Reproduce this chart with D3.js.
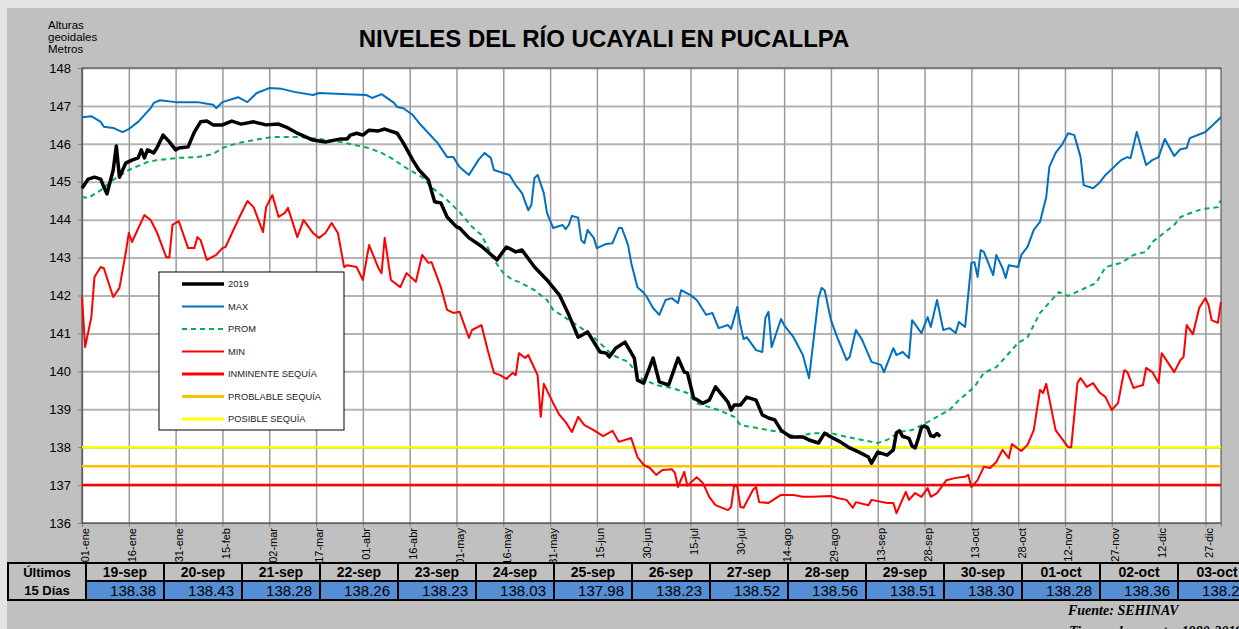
<!DOCTYPE html>
<html>
<head>
<meta charset="utf-8">
<script src="https://cdn.jsdelivr.net/npm/d3@7"></script>
<style>
body { margin: 0; background: #e4e4e4; }
text { font-family: Arial, "Liberation Sans", sans-serif; }
</style>
</head>
<body>
<svg id="chart" width="1239" height="629"></svg>
<script>
// day of year (0 = 01-ene), level in metres
let maxData = [[0,146.70],[3,146.73],[6,146.58],[7,146.45],[10,146.42],[13,146.31],[15,146.39],[18,146.58],[22,146.94],[23,147.08],[25,147.15],[30,147.10],[37,147.10],[42,147.03],[43,146.94],[45,147.10],[50,147.23],[53,147.10],[56,147.34],[60,147.47],[64,147.45],[68,147.37],[74,147.29],[76,147.34],[85,147.31],[91,147.29],[93,147.21],[96,147.31],[100,147.08],[101,146.97],[103,146.94],[106,146.76],[108,146.55],[114,146.02],[117,145.65],[119,145.65],[121,145.39],[124,145.18],[127,145.57],[129,145.76],[131,145.63],[132,145.31],[137,145.18],[139,144.91],[141,144.70],[143,144.25],[144,144.39],[145,145.10],[146,145.18],[148,144.70],[149,144.18],[151,143.78],[154,143.86],[155,143.75],[156,143.86],[157,144.10],[159,144.05],[160,143.46],[161,143.38],[162,143.73],[164,143.52],[165,143.25],[168,143.36],[170,143.38],[172,143.78],[173,143.78],[175,143.33],[176,142.86],[178,142.22],[180,142.07],[181,141.96],[183,141.67],[185,141.49],[187,141.88],[189,141.93],[191,141.80],[192,142.14],[195,142.01],[197,141.88],[200,141.49],[202,141.54],[204,141.14],[207,141.22],[208,141.12],[210,141.70],[211,141.22],[212,140.85],[213,140.90],[216,140.56],[218,140.51],[219,141.41],[220,141.57],[221,140.64],[224,141.38],[225,141.22],[228,140.90],[231,140.43],[233,139.82],[236,141.93],[237,142.20],[238,142.14],[240,141.35],[242,140.90],[245,140.30],[246,140.38],[248,141.09],[250,140.83],[253,140.25],[256,140.17],[257,139.98],[260,140.61],[261,140.43],[263,140.51],[265,140.35],[266,141.35],[269,141.01],[271,141.43],[272,141.17],[274,141.88],[276,141.09],[278,141.14],[280,141.01],[281,141.30],[283,141.17],[285,142.86],[286,142.88],[287,142.49],[288,143.20],[289,143.15],[292,142.54],[293,143.07],[295,142.72],[296,142.46],[297,142.80],[300,142.75],[301,143.07],[303,143.28],[305,143.73],[307,143.94],[309,144.60],[310,145.39],[312,145.76],[314,145.97],[316,146.28],[318,146.23],[320,145.65],[321,144.91],[324,144.83],[326,144.97],[328,145.18],[333,145.57],[335,145.65],[336,145.62],[338,146.31],[341,145.44],[343,145.57],[345,145.65],[347,146.13],[350,145.68],[352,145.86],[354,145.89],[355,146.15],[359,146.28],[360,146.31],[365,146.70]];

let promData = [[0,144.60],[2,144.57],[6,144.78],[10,145.05],[15,145.31],[21,145.52],[24,145.57],[31,145.63],[37,145.65],[42,145.73],[45,145.89],[50,146.02],[55,146.10],[61,146.18],[69,146.18],[74,146.15],[83,146.05],[89,145.94],[92,145.89],[96,145.76],[99,145.63],[104,145.36],[109,145.12],[112,144.86],[117,144.52],[121,144.20],[125,143.81],[128,143.60],[132,142.94],[135,142.59],[138,142.41],[140,142.36],[145,142.14],[149,141.88],[151,141.62],[155,141.41],[160,141.14],[164,140.90],[170,140.43],[175,140.25],[179,139.82],[184,139.64],[189,139.56],[194,139.43],[197,139.16],[204,138.98],[209,138.80],[211,138.58],[216,138.51],[220,138.45],[224,138.40],[229,138.27],[234,138.37],[240,138.37],[245,138.27],[250,138.19],[255,138.11],[258,138.19],[262,138.40],[266,138.45],[271,138.66],[275,138.85],[278,138.98],[281,139.24],[286,139.59],[289,139.96],[293,140.11],[296,140.38],[300,140.75],[303,140.90],[307,141.54],[313,142.09],[316,141.99],[320,142.14],[325,142.33],[328,142.75],[333,142.86],[337,143.07],[341,143.15],[343,143.41],[350,143.86],[352,144.07],[356,144.20],[359,144.28],[364,144.33],[365,144.52]];

let minData = [[0,141.96],[1,140.64],[3,141.43],[4,142.49],[6,142.75],[7,142.72],[10,141.96],[12,142.20],[14,143.12],[15,143.65],[16,143.41],[20,144.12],[22,143.99],[24,143.67],[27,143.01],[28,143.01],[29,143.86],[31,143.96],[34,143.25],[36,143.25],[37,143.54],[38,143.46],[40,142.94],[43,143.07],[45,143.25],[46,143.28],[50,143.99],[53,144.49],[55,144.33],[58,143.67],[59,144.33],[61,144.65],[63,144.07],[65,144.18],[66,144.31],[69,143.54],[71,143.99],[74,143.65],[76,143.52],[78,143.65],[80,143.91],[82,143.65],[84,142.75],[85,142.80],[88,142.75],[90,142.41],[92,143.33],[95,142.72],[96,142.59],[97,143.52],[99,142.41],[102,142.22],[104,142.59],[107,142.36],[109,143.07],[111,142.86],[112,142.88],[115,142.22],[117,141.62],[119,141.54],[121,141.57],[124,140.88],[125,141.09],[128,141.22],[130,140.56],[132,139.96],[134,139.90],[136,139.80],[138,139.96],[139,139.90],[140,140.48],[142,140.35],[143,140.43],[146,139.90],[147,138.80],[148,139.67],[151,139.16],[153,138.85],[155,138.66],[157,138.40],[159,138.80],[161,138.58],[164,138.45],[167,138.29],[170,138.43],[172,138.14],[176,138.24],[178,137.74],[180,137.53],[182,137.45],[184,137.27],[186,137.40],[189,137.42],[190,137.32],[191,136.95],[193,137.35],[194,136.98],[197,137.21],[199,137.05],[201,136.69],[203,136.47],[207,136.34],[208,136.42],[209,137.00],[210,136.95],[211,136.42],[212,136.40],[215,136.87],[216,136.95],[217,136.55],[220,136.53],[224,136.74],[228,136.74],[231,136.69],[234,136.69],[240,136.71],[242,136.66],[245,136.61],[247,136.40],[248,136.55],[252,136.47],[253,136.61],[258,136.53],[260,136.53],[261,136.26],[264,136.82],[265,136.61],[267,136.79],[269,136.69],[271,136.92],[272,136.69],[274,136.79],[277,137.13],[280,137.19],[283,137.22],[284,137.27],[285,136.95],[287,137.13],[289,137.48],[291,137.45],[293,137.61],[295,137.93],[297,137.71],[298,138.08],[301,137.90],[303,138.06],[305,138.45],[307,139.51],[308,139.43],[309,139.67],[312,138.45],[316,138.00],[317,138.00],[319,139.69],[320,139.82],[322,139.59],[324,139.69],[326,139.45],[328,139.32],[330,138.98],[332,139.16],[334,140.03],[335,139.98],[337,139.56],[338,139.59],[340,139.64],[341,140.09],[343,139.98],[345,139.69],[346,140.48],[350,139.98],[352,140.30],[353,140.38],[354,141.22],[356,140.98],[358,141.67],[360,141.93],[361,141.75],[362,141.35],[364,141.28],[365,141.83]];

let data2019 = [[0,144.83],[2,145.07],[4,145.12],[6,145.07],[7,144.86],[8,144.68],[10,145.31],[11,145.94],[12,145.12],[14,145.49],[16,145.57],[18,145.63],[19,145.84],[20,145.63],[21,145.84],[23,145.76],[24,145.89],[26,146.23],[28,146.05],[30,145.84],[31,145.89],[34,145.92],[36,146.31],[38,146.58],[40,146.60],[42,146.50],[45,146.50],[48,146.60],[51,146.52],[55,146.58],[59,146.50],[63,146.52],[66,146.42],[69,146.28],[74,146.10],[78,146.05],[83,146.13],[85,146.13],[86,146.23],[88,146.28],[90,146.23],[92,146.36],[95,146.34],[97,146.39],[101,146.28],[103,146.02],[106,145.57],[108,145.31],[111,145.05],[113,144.47],[115,144.44],[117,144.07],[120,143.81],[121,143.78],[124,143.52],[128,143.30],[133,142.94],[136,143.28],[139,143.15],[141,143.20],[145,142.75],[149,142.41],[153,142.01],[156,141.49],[159,140.90],[162,141.04],[166,140.51],[168,140.48],[169,140.38],[171,140.61],[174,140.77],[177,140.35],[178,139.77],[180,139.69],[183,140.35],[185,139.72],[188,139.64],[191,140.35],[193,139.98],[194,139.96],[196,139.30],[199,139.16],[201,139.24],[203,139.59],[207,139.19],[208,138.98],[209,139.11],[211,139.11],[213,139.32],[216,139.24],[218,138.85],[220,138.77],[222,138.72],[224,138.45],[227,138.27],[231,138.27],[233,138.19],[236,138.11],[238,138.37],[240,138.27],[243,138.14],[246,137.98],[249,137.87],[252,137.74],[253,137.58],[255,137.87],[258,137.79],[260,137.93]];

// last 15 days table
let lastDays = ["19-sep","20-sep","21-sep","22-sep","23-sep","24-sep","25-sep","26-sep","27-sep","28-sep","29-sep","30-sep","01-oct","02-oct","03-oct"];
let lastVals = [138.38,138.43,138.28,138.26,138.23,138.03,137.98,138.23,138.52,138.56,138.51,138.30,138.28,138.36,138.28];
let lastStart = 261;

let tickLabels = ["01-ene","16-ene","31-ene","15-feb","02-mar","17-mar","01-abr","16-abr","01-may","16-may","31-may","15-jun","30-jun","15-jul","30-jul","14-ago","29-ago","13-sep","28-sep","13-oct","28-oct","12-nov","27-nov","12-dic","27-dic"];
let tickDays = d3.range(0, 361, 15);

let levelNames = ["INMINENTE SEQUÍA","PROBLABLE SEQUÍA","POSIBLE SEQUÍA"];
let levelVals = [137, 137.5, 138];
let levelColors = ["#ff0000","#ffc000","#ffff00"];

// 2019 line keeps going with the table values
lastVals.forEach((v,i) => data2019.push([lastStart + i, v]));

let svg = d3.select("#chart");
let W = 1239, H = 629;

svg.append("rect").attr("x",7).attr("y",8).attr("width",W-7).attr("height",H-8).attr("fill","#c0c0c0");

let x = d3.scaleLinear().domain([0,365]).range([82,1221]);
let y = d3.scaleLinear().domain([136,148]).range([523,68]);

svg.append("rect").attr("x",82).attr("y",68).attr("width",1221-82).attr("height",523-68).attr("fill","#fff");

// horizontal grid
svg.append("g")
  .attr("transform","translate(82,0)")
  .call(d3.axisLeft(y).ticks(12).tickSize(-(1221-82)).tickFormat(""))
  .call(g => g.select(".domain").remove())
  .call(g => g.selectAll("line").attr("stroke","#b4b4b4").attr("stroke-width",2));

// vertical grid
svg.append("g")
  .attr("transform","translate(0,523)")
  .call(d3.axisBottom(x).tickValues(tickDays).tickSize(-(523-68)).tickFormat(""))
  .call(g => g.select(".domain").remove())
  .call(g => g.selectAll("line").attr("stroke","#9a9a9a").attr("stroke-width",1.5));

// y axis
let yAxis = svg.append("g")
  .attr("transform","translate(82,0)")
  .call(d3.axisLeft(y).ticks(12).tickSize(4).tickPadding(7).tickFormat(d3.format("d")));
yAxis.select(".domain").attr("stroke","#808080");
yAxis.selectAll("line").attr("stroke","#808080");
yAxis.selectAll("text").attr("font-size","13px").attr("fill","#000");

// x axis
let xAxis = svg.append("g")
  .attr("transform","translate(0,523)")
  .call(d3.axisBottom(x).tickValues(tickDays).tickSize(4).tickFormat((d,i) => tickLabels[i]));
xAxis.select(".domain").attr("stroke","#808080");
xAxis.selectAll("line").attr("stroke","#808080");
xAxis.selectAll("text")
  .attr("font-size","11px").attr("fill","#000")
  .attr("text-anchor","end")
  .attr("transform","translate(3,5) rotate(-90)")
  .attr("x",0).attr("y",0).attr("dy","0.35em");

// plot border
svg.append("rect").attr("x",82).attr("y",68).attr("width",1221-82).attr("height",523-68)
  .attr("fill","none").attr("stroke","#404040").attr("stroke-width",1);

// threshold levels
svg.selectAll(".level").data(levelVals).enter().append("line")
  .attr("class","level")
  .attr("x1",x(0)).attr("x2",x(365))
  .attr("y1",d => y(d)).attr("y2",d => y(d))
  .attr("stroke",(d,i) => levelColors[i]).attr("stroke-width",2.5);

let line = d3.line().x(d => x(d[0])).y(d => y(d[1]));

svg.append("path").datum(minData).attr("d",line)
  .attr("fill","none").attr("stroke","#ff0000").attr("stroke-width",2).attr("stroke-linejoin","round");
svg.append("path").datum(maxData).attr("d",line)
  .attr("fill","none").attr("stroke","#0070c0").attr("stroke-width",2).attr("stroke-linejoin","round");
svg.append("path").datum(promData).attr("d",line)
  .attr("fill","none").attr("stroke","#00b050").attr("stroke-width",2).attr("stroke-dasharray","5,4");
svg.append("path").datum(data2019).attr("d",line)
  .attr("fill","none").attr("stroke","#000").attr("stroke-width",3.5).attr("stroke-linejoin","round");

// legend
let legendItems = [
  {name:"2019", color:"#000", w:3.5, dash:null},
  {name:"MAX", color:"#0070c0", w:2, dash:null},
  {name:"PROM", color:"#00b050", w:2, dash:"5,4"},
  {name:"MIN", color:"#ff0000", w:2, dash:null},
  {name:levelNames[0], color:levelColors[0], w:3, dash:null},
  {name:levelNames[1], color:levelColors[1], w:3, dash:null},
  {name:levelNames[2], color:levelColors[2], w:3, dash:null}
];
let legend = svg.append("g");
legend.append("rect").attr("x",159).attr("y",272).attr("width",185).attr("height",158)
  .attr("fill","#fff").attr("stroke","#000").attr("stroke-width",1);
let li = legend.selectAll("g").data(legendItems).enter().append("g")
  .attr("transform",(d,i) => "translate(0," + (284 + i*22.5) + ")");
li.append("line").attr("x1",182).attr("x2",224)
  .attr("stroke",d => d.color).attr("stroke-width",d => d.w).attr("stroke-dasharray",d => d.dash);
li.append("text").attr("x",228).attr("dy","0.35em").attr("font-size","9.3px").attr("fill","#222").text(d => d.name);

// title and y label
svg.append("text").attr("x",604).attr("y",47).attr("text-anchor","middle")
  .attr("font-size","24px").attr("font-weight","bold").text("NIVELES DEL RÍO UCAYALI EN PUCALLPA");
["Alturas","geoidales","Metros"].forEach((t,i) => {
  svg.append("text").attr("x",48).attr("y",29 + i*12).attr("font-size","11.5px").text(t);
});

// table of the last 15 days
let table = svg.append("g");
table.append("rect").attr("x",8).attr("y",563).attr("width",78).attr("height",37)
  .attr("fill","#c0c0c0").attr("stroke","#000").attr("stroke-width",2);
table.append("text").attr("x",47).attr("y",577).attr("text-anchor","middle")
  .attr("font-size","13px").attr("font-weight","bold").text("Últimos");
table.append("text").attr("x",47).attr("y",595).attr("text-anchor","middle")
  .attr("font-size","13px").attr("font-weight","bold").text("15 Días");

let cols = table.selectAll(".col").data(lastDays).enter().append("g")
  .attr("class","col")
  .attr("transform",(d,i) => "translate(" + (86 + i*78) + ",0)");
cols.append("rect").attr("y",563).attr("width",78).attr("height",18)
  .attr("fill","#c0c0c0").attr("stroke","#000").attr("stroke-width",2);
cols.append("rect").attr("y",581).attr("width",78).attr("height",19)
  .attr("fill","#558ed5").attr("stroke","#000").attr("stroke-width",2);
cols.append("text").attr("x",39).attr("y",577).attr("text-anchor","middle")
  .attr("font-size","14px").attr("font-weight","bold").text(d => d);
cols.append("text").attr("x",70).attr("y",596).attr("text-anchor","end")
  .attr("font-size","15px").text((d,i) => lastVals[i].toFixed(2));

// source
let serif = "'Liberation Serif', 'Times New Roman', serif";
svg.append("text").attr("x",1068).attr("y",615)
  .style("font-family",serif)
  .attr("font-size","14px").attr("font-weight","bold").attr("font-style","italic")
  .text("Fuente: SEHINAV");
svg.append("text").attr("x",1069).attr("y",636)
  .style("font-family",serif)
  .attr("font-size","14px").attr("font-weight","bold").attr("font-style","italic")
  .text("Tiempo de reporte: 1980-2019");
</script>
</body>
</html>
